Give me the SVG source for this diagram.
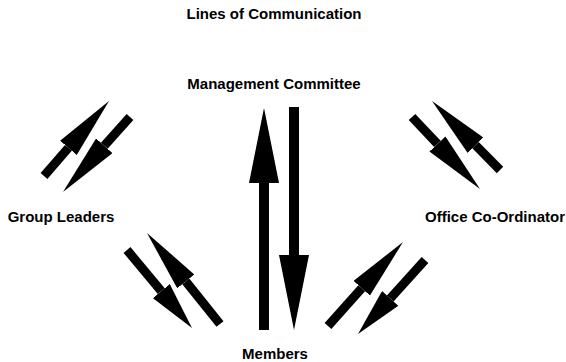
<svg xmlns="http://www.w3.org/2000/svg" width="566" height="362" viewBox="0 0 566 362">
<style>
  .lbl { font-family: "Liberation Sans", Arial, Helvetica, sans-serif; font-weight: bold; font-size: 15px; fill: #000; text-anchor: middle; }
  .big { stroke: #000; stroke-width: 10; fill: none; stroke-linecap: butt; }
  .dg { stroke: #000; stroke-width: 9; fill: none; stroke-linecap: butt; }
</style>
<defs>
  <marker id="headBig" markerUnits="userSpaceOnUse" markerWidth="75" markerHeight="30" viewBox="0 0 75 30" refX="0" refY="15" orient="auto">
    <path d="M0,0 L75,15 L0,30 Z" fill="#000"/>
  </marker>
  <marker id="headLong" markerUnits="userSpaceOnUse" markerWidth="62" markerHeight="22" viewBox="0 0 62 22" refX="0" refY="11" orient="auto">
    <path d="M0,0 L62,11 L0,22 Z" fill="#000"/>
  </marker>
  <marker id="headShort" markerUnits="userSpaceOnUse" markerWidth="48" markerHeight="22" viewBox="0 0 48 22" refX="0" refY="11" orient="auto">
    <path d="M0,0 L48,11 L0,22 Z" fill="#000"/>
  </marker>
</defs>
<rect width="566" height="362" fill="#fff"/>
<g id="title"><text class="lbl" x="274" y="19">Lines of Communication</text></g>
<g id="management-committee"><text class="lbl" x="274" y="89">Management Committee</text></g>
<g id="group-leaders"><text class="lbl" x="61" y="222">Group Leaders</text></g>
<g id="office-co-ordinator"><text class="lbl" x="495" y="222">Office Co-Ordinator</text></g>
<g id="members"><text class="lbl" x="275" y="359">Members</text></g>
<g id="connectors">
  <line class="big" x1="264" y1="330" x2="264" y2="183" marker-end="url(#headBig)"/>
  <line class="big" x1="294" y1="107" x2="294" y2="255" marker-end="url(#headBig)"/>
  <line class="dg" x1="44" y1="176" x2="68.4" y2="147.85" marker-end="url(#headLong)"/>
  <line class="dg" x1="130" y1="117" x2="104.3" y2="145.77" marker-end="url(#headLong)"/>
  <line class="dg" x1="412" y1="117" x2="437.43" y2="143.93" marker-end="url(#headLong)"/>
  <line class="dg" x1="500" y1="170" x2="475.52" y2="145.16" marker-end="url(#headLong)"/>
  <line class="dg" x1="127" y1="250" x2="161.27" y2="291.13" marker-end="url(#headShort)"/>
  <line class="dg" x1="220" y1="324" x2="185.79" y2="281.36" marker-end="url(#headLong)"/>
  <line class="dg" x1="328" y1="326" x2="361.71" y2="288.25" marker-end="url(#headLong)"/>
  <line class="dg" x1="425" y1="260" x2="390.22" y2="298.42" marker-end="url(#headShort)"/>
</g>
</svg>
